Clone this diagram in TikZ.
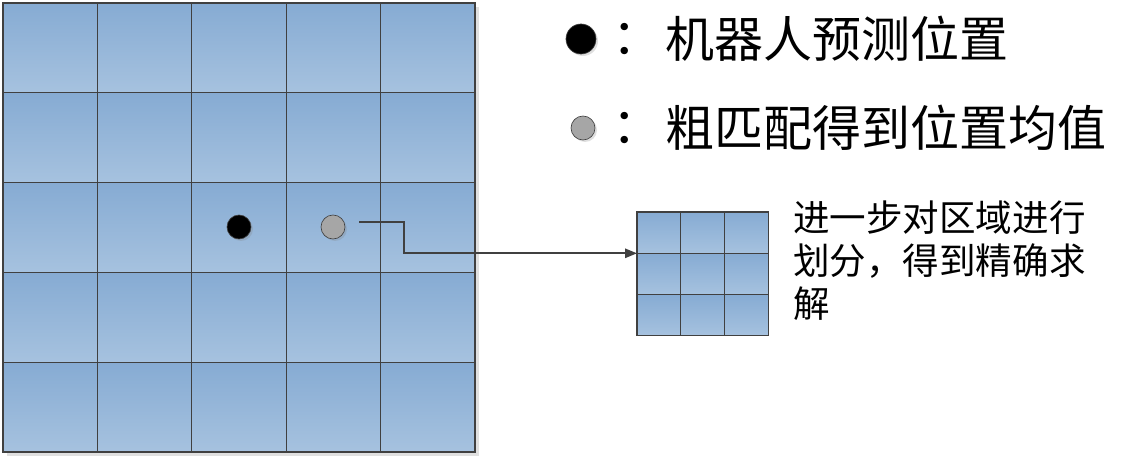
\documentclass[tikz,border=0pt]{standalone}
\usepackage{fontspec}
\newfontfamily\cjk{Noto Sans CJK SC}
\usetikzlibrary{arrows.meta, calc, shadows}
\definecolor{cellTop}{HTML}{86ABD3}
\definecolor{cellBot}{HTML}{A6C2DF}
\definecolor{lineGray}{HTML}{404040}

\begin{document}
\begin{tikzpicture}[x=0.75pt, y=-0.75pt,
  cell/.style={draw=lineGray, line width=0.9pt, top color=cellTop, bottom color=cellBot},
  dot/.style={circle, inner sep=0pt, draw=lineGray, line width=0.5pt,
    drop shadow={shadow xshift=1.5pt, shadow yshift=-1.5pt, opacity=0.25}},
  legend/.style={font=\cjk\fontsize{36.75pt}{40pt}\selectfont, inner sep=0pt},
  note/.style={font=\cjk\fontsize{27.4pt}{32.25pt}\selectfont, inner sep=0pt, align=left},
  link/.style={draw=lineGray, line width=1.4pt, -{Triangle[length=9pt,width=7pt]}}]
\useasboundingbox (0,0) rectangle (1142,459);
% coarse grid
\fill[black!12] (7,7) rectangle (479,456);
\foreach \i in {0,...,4}
  \foreach \j in {0,...,4}
    \draw[cell] (3+94.4*\i,3+89.8*\j) rectangle ++(94.4,89.8);
% fine grid
\foreach \i in {0,1,2}
  \foreach \j in {0,1,2}
    \draw[cell] (637+43.7*\i,212+41.3*\j) rectangle ++(43.7,41.3);
\coordinate (fineIn) at (637,253.3);
% positions
\node[dot, fill=black, minimum size=18pt] (pred) at (239,227) {};
\node[dot, fill=black!35, minimum size=18pt] (mean) at (333,227) {};
\coordinate (linkStart) at ($(mean.east)+(14,-5)$);
\draw[link] (linkStart) -- ++(45,0) |- (fineIn);
\node[note, anchor=north west] (note) at (793,201) {进一步对区域进行\\划分，得到精确求\\解};
% legend
\node[dot, fill=black, minimum size=22.5pt] (keyPred) at (581,39) {};
\node[legend] (colonPred) at (637,39) {：};
\node[legend, anchor=west] (txtPred) at (665,39) {机器人预测位置};
\node[dot, fill=black!35, minimum size=18pt] (keyMean) at (583,128) {};
\node[legend] (colonMean) at (637,128) {：};
\node[legend, anchor=west] (txtMean) at (665,128) {粗匹配得到位置均值};
\end{tikzpicture}
\end{document}
